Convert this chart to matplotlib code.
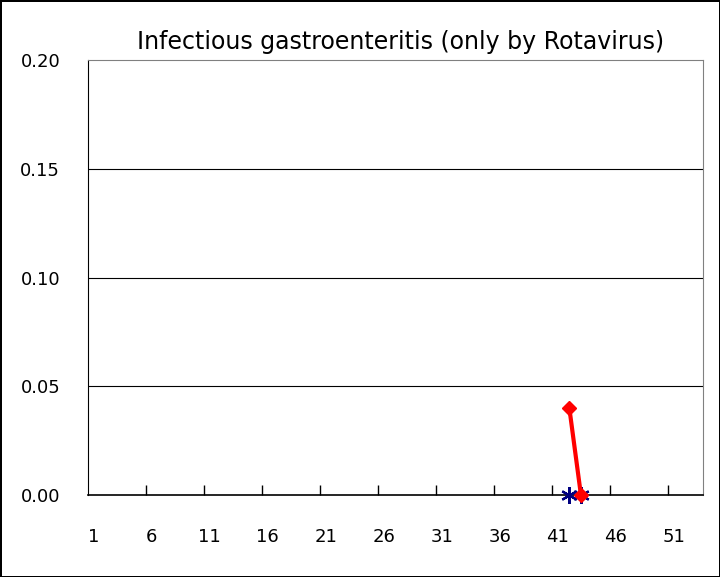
import matplotlib.pyplot as plt
import numpy as np

# weekly values (only two weeks reported)
red_weeks = [42, 43]
red_vals = [0.04, 0.0]
blue_weeks = [42, 43]
blue_vals = [0.0, 0.0]

week_labels = [1, 6, 11, 16, 21, 26, 31, 36, 41, 46, 51]
y_ticks = [0.00, 0.05, 0.10, 0.15, 0.20]

fig = plt.figure(figsize=(7.2, 5.77), dpi=100)
fig.patch.set_edgecolor("black")
fig.patch.set_linewidth(2)
ax = fig.add_axes([0.1222, 0.1421, 0.8538, 0.7539])

ax.plot(blue_weeks, blue_vals, color="#000080", linestyle="none",
        marker=(6, 2, 0), markersize=12, markeredgewidth=1.6, zorder=3,
        clip_on=False)
ax.plot(red_weeks, red_vals, color="red", linewidth=3,
        marker="D", markersize=7, zorder=4, clip_on=False)

ax.set_xlim(0.5, 53.5)
ax.set_ylim(0, 0.2)
ax.set_xticks(week_labels)
ax.set_xticklabels([str(w) for w in week_labels], fontsize=13)
ax.set_xticks(np.arange(5.5, 53, 5), minor=True)
ax.tick_params(axis="x", which="major", length=0, pad=24)
ax.tick_params(axis="x", which="minor", direction="in", length=7, width=1)

ax.set_yticks(y_ticks)
ax.set_yticklabels(["%.2f" % v for v in y_ticks], fontsize=13)
ax.tick_params(axis="y", length=0, pad=20)

for v in y_ticks[1:-1]:
    ax.axhline(v, color="black", linewidth=0.8, zorder=1)

ax.spines["top"].set_color("#808080")
ax.spines["right"].set_color("#808080")
ax.spines["left"].set_color("black")
ax.spines["bottom"].set_color("black")
ax.spines["bottom"].set_linewidth(1.2)

fig.text(0.557, 0.928, "Infectious gastroenteritis (only by Rotavirus)",
         ha="center", va="center", fontsize=17)

fig.savefig("out.png", dpi=100, edgecolor=fig.get_edgecolor())
